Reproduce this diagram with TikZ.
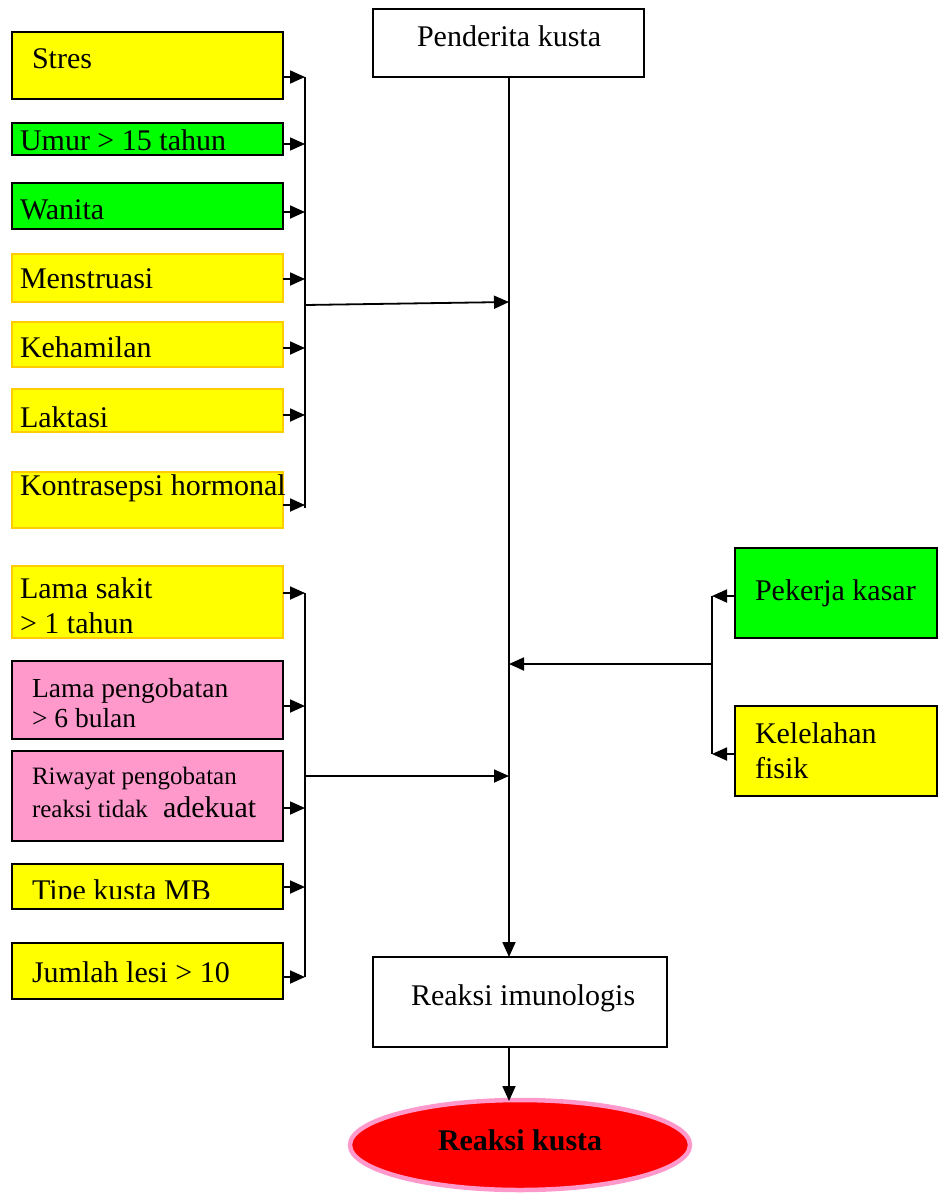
\documentclass[tikz,border=0pt]{standalone}
\usepackage{fontspec}
\setmainfont{Liberation Serif}
\usetikzlibrary{arrows.meta,shapes.geometric}
\definecolor{yel}{HTML}{FFFF00}
\definecolor{grn}{HTML}{00FF00}
\definecolor{pnk}{HTML}{FF99CC}
\definecolor{gold}{HTML}{FFCC00}
\definecolor{rd}{HTML}{FF0000}
\tikzset{
  box/.style={draw=black, line width=1.6pt, inner sep=0pt, outer sep=0pt, anchor=north west},
  goldbox/.style={box, draw=gold},
  txt/.style={inner sep=0pt, outer sep=0pt, anchor=base west, font=\fontsize{30}{34}\selectfont},
  txtm/.style={txt, font=\fontsize{27.5}{31}\selectfont},
  txts/.style={txt, font=\fontsize{25}{29}\selectfont},
  conn/.style={line width=1.8pt},
  arr/.style={conn, -{Triangle[length=15pt,width=13pt]}},
}
\begin{document}
\begin{tikzpicture}[x=1pt,y=-1pt]
\useasboundingbox (0,0) rectangle (943,1199);
% top and bottom boxes
\node[box, fill=white, minimum width=271pt, minimum height=68pt] (pend) at (373,9) {};
\node[txt] (tpend) at (417,47) {Penderita kusta};
\node[box, fill=white, minimum width=294pt, minimum height=90pt] (imun) at (373,957) {};
\node[txt] (timun) at (411,1005) {Reaksi imunologis};
\node[ellipse, draw=pnk, line width=4.5pt, fill=rd, minimum width=340pt, minimum height=90pt, inner sep=0pt] (kusta) at (520,1145) {};
\node[txt, font=\fontsize{30}{34}\selectfont\bfseries] (tkusta) at (438,1150) {Reaksi kusta};
% left group 1
\node[box, fill=yel, minimum width=271pt, minimum height=67pt] (stres) at (12,32) {};
\node[txt] (tstres) at (32,69) {Stres};
\node[box, fill=grn, minimum width=271pt, minimum height=32pt] (umur) at (12,123) {};
\node[txt] (tumur) at (20,150) {Umur > 15 tahun};
\node[box, fill=grn, minimum width=271pt, minimum height=46pt] (wanita) at (12,183) {};
\node[txt] (twanita) at (20,219) {Wanita};
\node[goldbox, fill=yel, minimum width=271pt, minimum height=48pt] (mens) at (12,254) {};
\node[txt] (tmens) at (20,288) {Menstruasi};
\node[goldbox, fill=yel, minimum width=271pt, minimum height=45pt] (hamil) at (12,322) {};
\node[txt] (thamil) at (20,357) {Kehamilan};
\node[goldbox, fill=yel, minimum width=271pt, minimum height=43pt] (laktasi) at (12,389) {};
\node[txt] (tlaktasi) at (20,427) {Laktasi};
\node[goldbox, fill=yel, minimum width=271pt, minimum height=56pt] (kontra) at (12,472) {};
\node[txt] (tkontra) at (20,495) {Kontrasepsi hormonal};
% left group 2
\node[goldbox, fill=yel, minimum width=271pt, minimum height=72pt] (sakit) at (12,566) {};
\node[txt] (tsakit1) at (20,598) {Lama sakit};
\node[txt] (tsakit2) at (20,633) {> 1 tahun};
\node[box, fill=pnk, minimum width=271pt, minimum height=78pt] (obat) at (12,661) {};
\node[txtm] (tobat1) at (32,697) {Lama pengobatan};
\node[txtm] (tobat2) at (32,727) {> 6 bulan};
\node[box, fill=pnk, minimum width=271pt, minimum height=90pt] (riwayat) at (12,751) {};
\node[txts] (triw1) at (32,784) {Riwayat pengobatan};
\node[txts] (triw2) at (32,817) {reaksi tidak};
\node[txt] (triw3) at (163,817) {adekuat};
\node[box, fill=yel, minimum width=271pt, minimum height=45pt] (tipe) at (12,864) {};
\begin{scope}
\clip (12,864) rectangle (283,898.5);
\node[txt] (ttipe) at (32,900) {Tipe kusta MB};
\end{scope}
\node[box, fill=yel, minimum width=271pt, minimum height=56pt] (lesi) at (12,943) {};
\node[txt] (tlesi) at (32,982) {Jumlah lesi > 10};
% right group
\node[box, fill=grn, minimum width=202pt, minimum height=90pt] (pekerja) at (735,548) {};
\node[txt] (tpekerja) at (755,600) {Pekerja kasar};
\node[box, fill=yel, minimum width=202pt, minimum height=90pt] (lelah) at (735,706) {};
\node[txt] (tlelah1) at (755,743) {Kelelahan};
\node[txt] (tlelah2) at (755,778) {fisik};
% coordinates
\coordinate (b1t) at (305,77);
\coordinate (b1b) at (305,508);
\coordinate (b1m) at (305,305);
\coordinate (m1) at (509,302);
\coordinate (b2t) at (305,593);
\coordinate (b2b) at (305,977);
\coordinate (b2m) at (305,776);
\coordinate (m2) at (509,776);
\coordinate (b3t) at (712,596);
\coordinate (b3b) at (712,754);
\coordinate (b3m) at (712,664);
\coordinate (m3) at (509,664);
\coordinate (mtop) at (509,77);
\coordinate (mbot) at (509,957);
\coordinate (ibot) at (509,1047);
\coordinate (ktop) at (509,1101);
% main line
\draw[arr] (mtop) -- (mbot);
\draw[arr] (ibot) -- (ktop);
% group 1 bracket
\draw[conn] (b1t) -- (b1b);
\draw[arr] (stres.east |- b1t) -- (b1t);
\foreach \n/\y in {umur/144, wanita/212, mens/279, hamil/348, laktasi/415, kontra/505}
  \draw[arr] (\n.east |- 0,\y) -- (305,\y);
\draw[arr] (b1m) -- (m1);
% group 2 bracket
\draw[conn] (b2t) -- (b2b);
\draw[arr] (sakit.east |- b2t) -- (b2t);
\foreach \n/\y in {obat/706, riwayat/808, tipe/887}
  \draw[arr] (\n.east |- 0,\y) -- (305,\y);
\draw[arr] (lesi.east |- b2b) -- (b2b);
\draw[arr] (b2m) -- (m2);
% right bracket
\draw[conn] (b3t) -- (b3b);
\draw[arr] (pekerja.west |- b3t) -- (b3t);
\draw[arr] (lelah.west |- b3b) -- (b3b);
\draw[arr] (b3m) -- (m3);
\end{tikzpicture}
\end{document}
